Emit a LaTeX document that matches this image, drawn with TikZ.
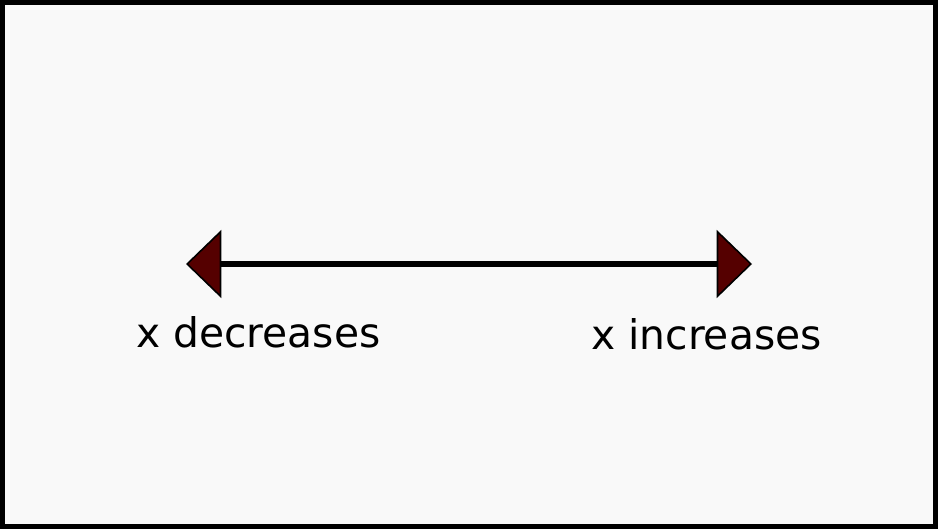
\documentclass[tikz,border=0pt]{standalone}
\usepackage{fontspec}
\setmainfont{DejaVu Sans}
\usetikzlibrary{arrows.meta}
\definecolor{tipred}{HTML}{550000}
\definecolor{paper}{HTML}{F9F9F9}

\begin{document}
\begin{tikzpicture}[x=0.75pt, y=-0.75pt,
  redtip/.tip={Triangle[length=26.5pt, width=51pt, line width=1.2pt, fill=tipred]},
  axisline/.style={line width=4pt, redtip-redtip},
  dirtext/.style={anchor=base west, inner sep=0pt, font=\fontsize{30.6}{36}\selectfont}]
   % frame
   \useasboundingbox (0,0) rectangle (938,529);
   \draw[line width=3.75pt, fill=paper] (2.5,2.5) rectangle (935.5,526.5);

   % end points
   \coordinate (lo) at (186,264);
   \coordinate (hi) at (752,264);

   % draw axis
   \draw[axisline] (lo) -- (hi);

   % labels
   \node[dirtext] (dec) at (136,347.3) {x decreases};
   \node[dirtext] (inc) at (591,349.3) {x increases};
\end{tikzpicture}
\end{document}
